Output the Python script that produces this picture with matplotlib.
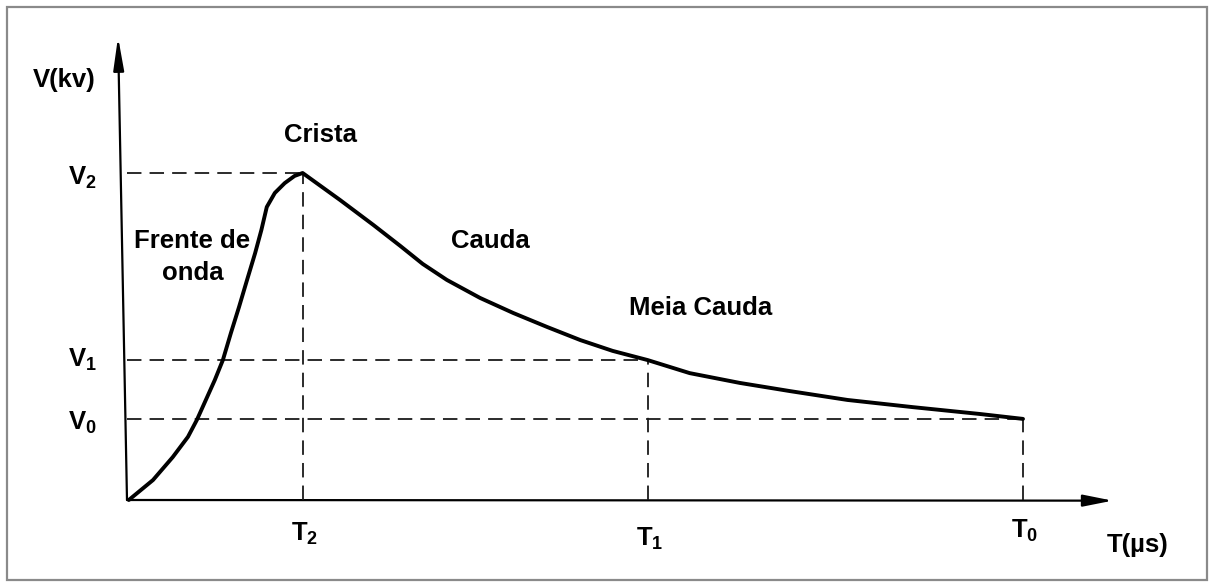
import matplotlib
matplotlib.use("Agg")
import matplotlib.pyplot as plt
from matplotlib.patches import Rectangle, FancyArrowPatch

plt.rcParams["font.family"] = ["Liberation Sans", "DejaVu Sans"]
plt.rcParams["font.weight"] = "bold"
plt.rcParams["mathtext.fontset"] = "custom"
plt.rcParams["mathtext.rm"] = "Liberation Sans:bold"
plt.rcParams["mathtext.it"] = "Liberation Sans:bold"
plt.rcParams["mathtext.bf"] = "Liberation Sans:bold"

# impulse wave (T0 = 100, V2 = 100)
t_wave = [0.2, 2.9, 5.1, 6.8, 7.8, 8.8, 9.8, 10.7, 11.6, 12.5, 13.4,
          14.3, 15.0, 15.6, 16.5, 17.6, 18.7, 19.6,
          23.8, 27.5, 30.5, 33.0, 35.7, 39.4, 43.1, 46.9, 50.6, 54.2,
          58.1, 62.8, 68.4, 74.0, 80.4, 87.7, 95.2, 100.0]
v_wave = [0.0, 6.1, 13.1, 19.3, 24.5, 30.6, 36.7, 42.8, 51.1, 59.0, 67.3,
          75.5, 82.6, 89.6, 93.9, 96.9, 99.1, 100.0,
          91.7, 84.1, 77.7, 72.2, 67.3, 61.8, 57.2, 52.9, 48.9, 45.6,
          42.8, 38.8, 35.8, 33.3, 30.6, 28.4, 26.3, 24.8]

t_marks = [19.6, 58.1, 100.0]   # T2, T1, T0
v_marks = [100.0, 42.8, 24.8]   # V2, V1, V0
t_labels = ["$T_2$", "$T_1$", "$T_0$"]
v_labels = ["$V_2$", "$V_1$", "$V_0$"]

fig = plt.figure(figsize=(12.14, 5.87), dpi=100)
ax = fig.add_axes([0, 0, 1, 1])
# origin of the drawing sits at pixel (127, 500): 8.96 px per t unit, 3.27 px per v unit
ax.set_xlim(-127 / 8.96, (1214 - 127) / 8.96)
ax.set_ylim(-(587 - 500) / 3.27, 500 / 3.27)
ax.axis("off")

# frame around the picture
fig.patches.append(Rectangle((7 / 1214, 7 / 587), 1200 / 1214, 573 / 587,
                             transform=fig.transFigure, fill=False,
                             edgecolor="#8a8a8a", linewidth=1.6))

# dashed guide lines
dash_kw = dict(color="#1a1a1a", linewidth=1.3, dashes=(8, 4.5))
for t, v in zip(t_marks, v_marks):
    ax.plot([0, t], [v, v], **dash_kw)
    ax.plot([t, t], [0, v], **dash_kw)

# axes with arrow heads
ax.add_patch(FancyArrowPatch((0, 0), (110, -0.2),
                             arrowstyle="-|>,head_length=0.9,head_width=0.18",
                             mutation_scale=20, color="black", linewidth=1.6,
                             shrinkA=0, shrinkB=0))
ax.add_patch(FancyArrowPatch((0, 0), (-1.0, 141.6),
                             arrowstyle="-|>,head_length=1.0,head_width=0.16",
                             mutation_scale=20, color="black", linewidth=1.6,
                             shrinkA=0, shrinkB=0))

# the wave
ax.plot(t_wave, v_wave, color="black", linewidth=2.8,
        solid_joinstyle="round", solid_capstyle="round")

fs = 18.5
ax.text(-7.0, 126.3, "V(kv)", fontsize=fs, ha="center", va="baseline")
ax.text(112.8, -15.9, "T(µs)", fontsize=fs, ha="center", va="baseline")

for lab, v, y_base in zip(v_labels, v_marks, [96.3, 40.7, 21.4]):
    ax.text(-5.0, y_base, lab, fontsize=fs, ha="center", va="baseline")
for lab, t, y_base in zip(t_labels, t_marks, [-12.5, -14.1, -11.6]):
    ax.text(t + 0.2, y_base, lab, fontsize=fs, ha="center", va="baseline")

ax.text(21.6, 109.5, "Crista", fontsize=fs, ha="center", va="baseline")
ax.text(7.3, 77.1, "Frente de", fontsize=fs, ha="center", va="baseline")
ax.text(7.3, 67.3, "onda", fontsize=fs, ha="center", va="baseline")
ax.text(40.5, 77.1, "Cauda", fontsize=fs, ha="center", va="baseline")
ax.text(64.0, 56.6, "Meia Cauda", fontsize=fs, ha="center", va="baseline")

fig.savefig("out.png", dpi=100, facecolor="white")
